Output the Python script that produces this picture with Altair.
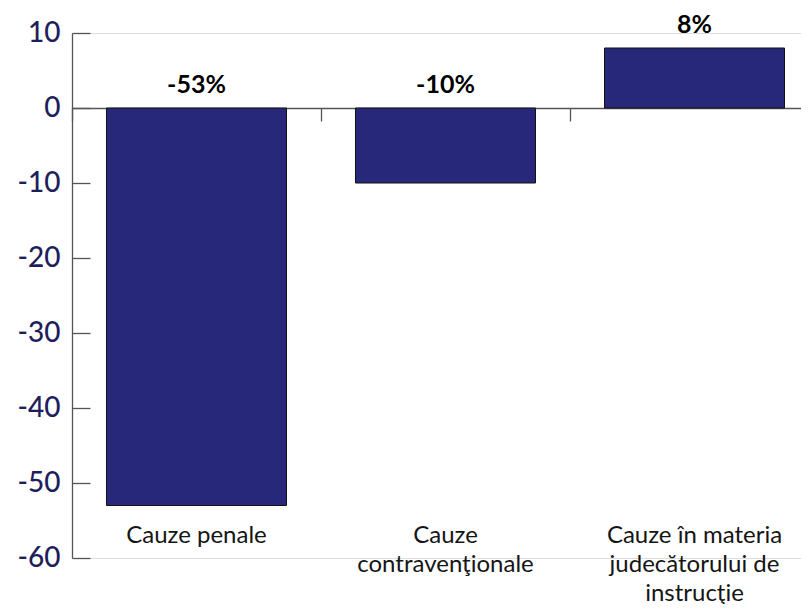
import altair as alt
import pandas as pd

categories = ["Cauze penale", "Cauze contravenţionale", "Cauze în materia judecătorului de instrucţie"]
values = [-53, -10, 8]
value_labels = ["-53%", "-10%", "8%"]
category_labels = ["Cauze penale", "Cauze\ncontravenţionale", "Cauze în materia\njudecătorului de\ninstrucţie"]
y_ticks = [10, 0, -10, -20, -30, -40, -50, -60]
y_domain = [-60, 10]
category_label_level = -55.4

df = pd.DataFrame({
    "cat": categories,
    "value": values,
    "vlabel": value_labels,
    "clabel": category_labels,
})
df["label_pos"] = df["value"].clip(lower=0)

FONT = "Lato"
AXIS_COLOR = "#555555"
BAR_COLOR = "#28287a"
NAVY = "#1e1e5c"

x_enc = alt.X(
    "cat:N",
    sort=categories,
    scale=alt.Scale(domain=categories, range=[0, 747], paddingInner=0.277, paddingOuter=0.1385),
    axis=alt.Axis(
        orient="bottom", offset=-450, title=None, labels=False,
        domain=True, domainColor=AXIS_COLOR, domainWidth=1.3,
        ticks=True, tickSize=13, tickColor=AXIS_COLOR, tickWidth=1.3,
        bandPosition=0.5, tickOffset=-124.5, grid=False,
    ),
)

y_scale = alt.Scale(domain=y_domain, nice=False, zero=False)

bars = alt.Chart(df).mark_bar(color=BAR_COLOR, stroke="#111111", strokeWidth=1).encode(
    x=x_enc,
    y=alt.Y("value:Q", scale=y_scale, axis=alt.Axis(
        orient="left", title=None, labels=False, ticks=False, grid=False,
        domain=True, domainColor=AXIS_COLOR, domainWidth=1.3, values=y_ticks,
    )),
)

value_text = alt.Chart(df).mark_text(
    font=FONT, fontSize=25, fontWeight="bold", color="black", baseline="middle", dy=-23
).encode(
    x=x_enc,
    y=alt.Y("label_pos:Q", scale=y_scale, axis=alt.Axis(
        orient="left", offset=-18, title=None, grid=False, domain=False,
        ticks=True, tickSize=18, tickColor=AXIS_COLOR, tickWidth=1.3,
        values=y_ticks, labelPadding=12, labelFont=FONT, labelFontSize=28,
        labelColor=NAVY, labelFontWeight=500, labelExpr="'' + datum.value",
    )),
    text="vlabel:N",
)

cat_text = alt.Chart(df).mark_text(
    font=FONT, fontSize=24, baseline="top", align="center", lineHeight=29,
    lineBreak="\n", color="#151515"
).encode(
    x=x_enc,
    y=alt.datum(category_label_level, scale=y_scale, axis=None),
    text="clabel:N",
)

chart = alt.layer(bars, value_text, cat_text).resolve_scale(y="independent").properties(
    width=729, height=525,
    autosize=alt.AutoSizeParams(type="none"),
    padding={"left": 64, "top": 25, "right": 0, "bottom": 46},
).configure_view(stroke=None).configure(background="white")

chart.save("out.html", embed_options={"renderer": "svg", "actions": False})
